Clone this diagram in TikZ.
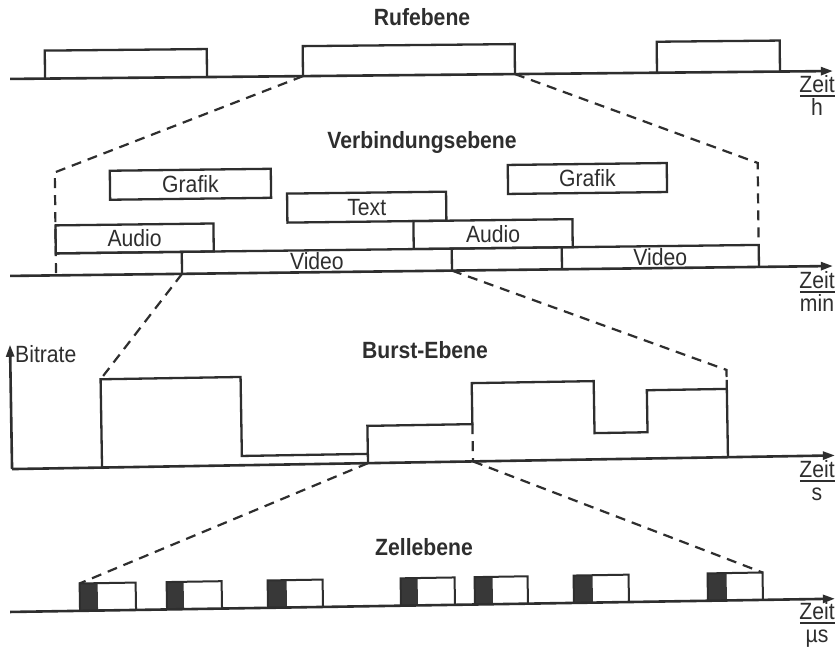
\documentclass[tikz,border=0pt]{standalone}
\usepackage{fontspec}
\setmainfont{Liberation Sans}[FakeStretch=0.9]
\usetikzlibrary{arrows.meta}
\begin{document}
\begin{tikzpicture}[x=1pt,y=-1pt,
  ink/.style={draw=black!82, line width=2.3pt},
  axisline/.style={draw=black!82, line width=2.6pt, -{Triangle[length=12pt,width=8pt]}},
  zoomline/.style={draw=black!82, line width=2.2pt, dash pattern=on 10pt off 7pt},
  lbl/.style={font=\fontsize{23.5}{27}\selectfont, text=black!82, inner sep=0pt},
  ttl/.style={font=\fontsize{23.5}{27}\selectfont\bfseries, text=black!82, inner sep=0pt},
  cellfill/.style={fill=black!78},
  unitrule/.style={draw=black!82, line width=2pt},
]
\useasboundingbox (0,0) rectangle (840,649);
\fill[white] (0,0) rectangle (840,649);

% ---------------- titles ----------------
\node[ttl, anchor=base] (t1) at (422,25) {Rufebene};
\node[ttl, anchor=base] (t2) at (422,148) {Verbindungsebene};
\node[ttl, anchor=base] (t3) at (425,358) {Burst-Ebene};
\node[ttl, anchor=base] (t4) at (424,555) {Zellebene};

% ---------------- Rufebene ----------------
\begin{scope}[rotate around={0.55:(420,75)}]
  \coordinate (ra0) at (10,75);
  \coordinate (ra1) at (833,75);
  \draw[axisline] (ra0) -- (ra1);
  \draw[ink] (45,75) |- (207,47) -- (207,75);
  \coordinate (r2l) at (303,75);
  \coordinate (r2r) at (515,75);
  \draw[ink] (r2l) |- (515,45) -- (r2r);
  \draw[ink] (657,75) |- (780,44) -- (780,75);
\end{scope}

% ---------------- Verbindungsebene ----------------
\begin{scope}[rotate around={0.69:(420,271)}]
  \coordinate (ma0) at (10,271);
  \coordinate (ma1) at (833,271);
  \coordinate (ml) at (56,168);
  \coordinate (mr) at (759,167);
  \coordinate (mlb) at (56,271);
  \coordinate (mrb) at (759,249);
  \draw[zoomline] (r2l) -- (ml) -- (mlb);
  \draw[zoomline] (r2r) -- (mr) -- (mrb);
  \draw[axisline] (ma0) -- (ma1);
  \draw[ink] (111,167) rectangle (272,196);
  \node[lbl] (g1) at (191.5,181.5) {Grafik};
  \draw[ink] (509,166) rectangle (668,195);
  \node[lbl] (g2) at (588.5,180.5) {Grafik};
  \draw[ink] (288,192) rectangle (447,221);
  \node[lbl] (tx) at (367.5,206.5) {Text};
  \draw[ink] (56,221) rectangle (214,249);
  \node[lbl] (a1) at (135,235) {Audio};
  \draw[ink] (414,221) rectangle (573,249);
  \node[lbl] (a2) at (493.5,235) {Audio};
  \draw[ink] (56,249) -- (759,249) -- (759,271);
  \coordinate (vl) at (182,271);
  \coordinate (vr) at (452,271);
  \draw[ink] (182,249) -- (vl);
  \draw[ink] (452,249) -- (vr);
  \draw[ink] (562,249) -- (562,271);
  \node[lbl] (v1) at (317,260) {Video};
  \node[lbl] (v2) at (660.5,260) {Video};
\end{scope}

% ---------------- Burst-Ebene ----------------
\begin{scope}[rotate around={0.95:(420,462.3)}]
  \coordinate (ba0) at (12,462.3);
  \coordinate (ba1) at (835,462.3);
  \coordinate (bup) at (12,338);
  \coordinate (btl) at (102,374);
  \coordinate (btr) at (728,375);
  \coordinate (bl) at (368,462.3);
  \coordinate (br) at (473,462.3);
  \draw[zoomline] (vl) -- (btl);
  \draw[zoomline] (vr) -- (btr) -- (728,385);
  \draw[axisline] (ba0) -- (ba1);
  \draw[axisline] (ba0) -- (bup);
  \draw[ink] (102,462.3) -- (btl) -- (242,374) -- (242,453) -- (368,453);
  \draw[ink] (bl) -- (368,425) -- (473,425) -- (473,384) -- (595,384)
        -- (595,436) -- (648,436) -- (648,394) -- (728,394);
  \draw[ink] (728,385) -- (728,462.3);
  \draw[zoomline] (473,425) -- (br);
\end{scope}
\node[lbl, anchor=base west] (bit) at (15,362) {Bitrate};

% ---------------- Zellebene ----------------
\begin{scope}[rotate around={0.92:(420,605.4)}]
  \coordinate (ca0) at (10,605.4);
  \coordinate (ca1) at (835,605.4);
  \coordinate (ctl) at (80,578);
  \coordinate (ctr) at (763,578);
  \draw[zoomline] (bl) -- (ctl);
  \draw[zoomline] (br) -- (ctr);
  \foreach \a/\b/\c in {80/98/136,167/184/222,268/287/323,401/418/455,475/493/528,574/593/629,708/727/763}{
    \fill[cellfill] (\a,578) rectangle (\b,605.4);
    \draw[ink, line width=2pt] (\a,605.4) -- (\a,578) -- (\c,578) -- (\c,605.4);
  }
  \draw[axisline] (ca0) -- (ca1);
\end{scope}

% ---------------- Zeit labels ----------------
\node[lbl, anchor=base] (z1) at (817,92) {Zeit};
\draw[unitrule] (800,96) -- (835,96);
\node[lbl, anchor=base] (u1) at (817,115) {h};
\node[lbl, anchor=base] (z2) at (817,288) {Zeit};
\draw[unitrule] (800,292) -- (835,292);
\node[lbl, anchor=base] (u2) at (817,311) {min};
\node[lbl, anchor=base] (z3) at (817,477) {Zeit};
\draw[unitrule] (800,481) -- (835,481);
\node[lbl, anchor=base] (u3) at (817,500) {s};
\node[lbl, anchor=base] (z4) at (817,619) {Zeit};
\draw[unitrule] (800,623) -- (835,623);
\node[lbl, anchor=base] (u4) at (817,642) {µs};
\end{tikzpicture}
\end{document}
